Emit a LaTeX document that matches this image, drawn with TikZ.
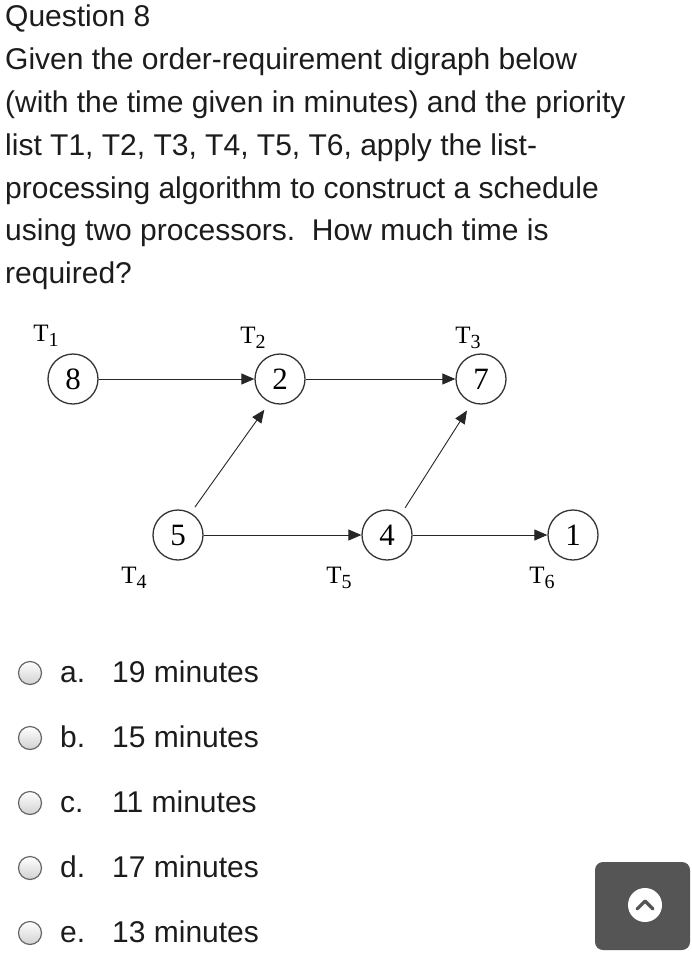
\documentclass[tikz,border=0pt]{standalone}
\usepackage{fontspec}
\setmainfont{Liberation Sans}
\newfontfamily\graphfont{Liberation Serif}
\usetikzlibrary{arrows.meta}
\definecolor{ink}{HTML}{1C1C1C}
\definecolor{btn}{HTML}{555555}
\newcommand{\tsub}[1]{T\raisebox{-5pt}{\fontsize{20}{20}\selectfont #1}}
\begin{document}
\begin{tikzpicture}[x=1pt, y=-1pt,
  txt/.style={anchor=base west, inner sep=0pt, text=ink, font=\fontsize{30}{36}\selectfont},
  task/.style={circle, draw=black!80, line width=1.3pt, minimum size=50pt, inner sep=0pt, font=\graphfont\fontsize{31}{32}\selectfont},
  tlabel/.style={inner sep=0pt, font=\graphfont\fontsize{25}{26}\selectfont},
  edge/.style={-{Triangle[length=13pt,width=11pt]}, line width=0.9pt, draw=black!85},
  radio/.style={circle, draw=black!60, line width=1.2pt, minimum size=23pt, inner sep=0pt, top color=white, bottom color=black!18}
]
\useasboundingbox (0,0) rectangle (691,955);
\fill[white] (0,0) rectangle (691,955);

\node[txt] (q0) at (5, 27) {Question 8};
\node[txt] (q1) at (5, 70) {Given the order-requirement digraph below};
\node[txt] (q2) at (5, 113) {(with the time given in minutes) and the priority};
\node[txt] (q3) at (5, 155) {list T1, T2, T3, T4, T5, T6, apply the list-};
\node[txt] (q4) at (5, 198) {processing algorithm to construct a schedule};
\node[txt] (q5) at (5, 240) {using two processors.\ \ How much time is};
\node[txt] (q6) at (5, 283) {required?};

% tasks
\node[task] (t1) at (73, 379) {8};
\node[task] (t2) at (280, 379) {2};
\node[task] (t3) at (481, 379) {7};
\node[task] (t4) at (178, 535) {5};
\node[task] (t5) at (387, 535) {4};
\node[task] (t6) at (573, 535) {1};

\node[tlabel] (l1) at (46, 336) {\tsub{1}};
\node[tlabel] (l2) at (253, 338) {\tsub{2}};
\node[tlabel] (l3) at (468, 338) {\tsub{3}};
\node[tlabel] (l4) at (134, 578) {\tsub{4}};
\node[tlabel] (l5) at (339, 578) {\tsub{5}};
\node[tlabel] (l6) at (542, 578) {\tsub{6}};

\draw[edge] (t1) -- (t2);
\draw[edge] (t2) -- (t3);
\draw[edge] (t4) -- (t5);
\draw[edge] (t5) -- (t6);
\draw[edge, shorten <=7pt, shorten >=9pt] (t4.60) -- (t2.246);
\draw[edge, shorten <=7pt, shorten >=9pt] (t5.56) -- (t3.249);

% answers
\node[radio] (ra) at (30, 673) {};
\node[radio] (rb) at (30, 738) {};
\node[radio] (rc) at (30, 803) {};
\node[radio] (rd) at (30, 868) {};
\node[radio] (re) at (30, 933) {};

\node[txt] (ka) at (60, 682) {a.};
\node[txt] (kb) at (60, 747) {b.};
\node[txt] (kc) at (60, 812) {c.};
\node[txt] (kd) at (60, 877) {d.};
\node[txt] (ke) at (60, 942) {e.};

\node[txt] (aa) at (112, 682) {19 minutes};
\node[txt] (ab) at (112, 747) {15 minutes};
\node[txt] (ac) at (112, 812) {11 minutes};
\node[txt] (ad) at (112, 877) {17 minutes};
\node[txt] (ae) at (112, 942) {13 minutes};

% scroll button
\fill[btn, rounded corners=8pt] (595, 862) rectangle (690, 950);
\node[circle, fill=white, minimum size=34pt, inner sep=0pt] (up) at (645, 905) {};
\draw[btn, line width=3.2pt, line cap=round, line join=round] (637, 909) -- (645, 901) -- (653, 909);
\end{tikzpicture}
\end{document}
